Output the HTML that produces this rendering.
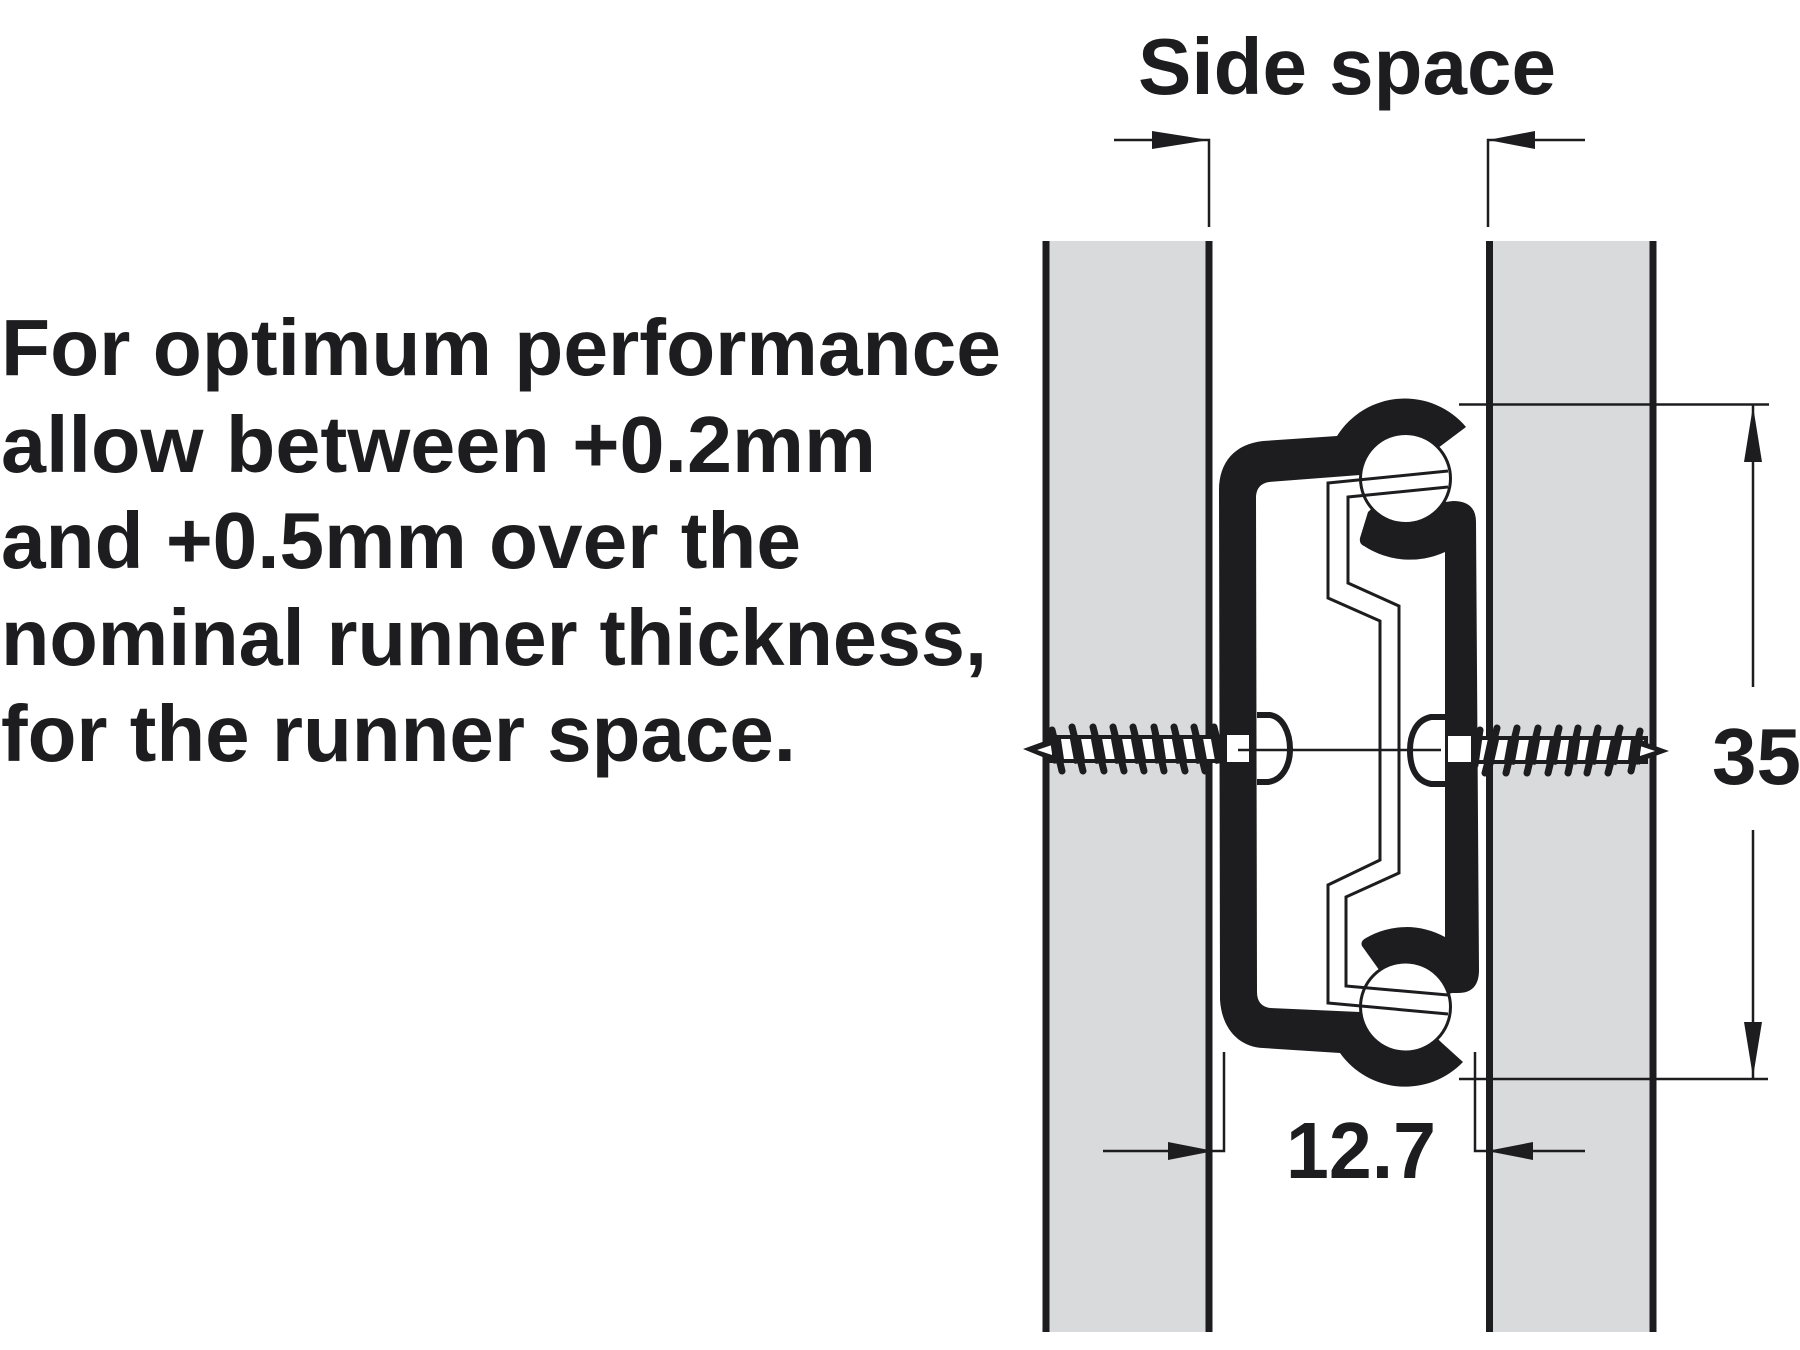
<!DOCTYPE html>
<html><head><meta charset="utf-8"><style>
html,body{margin:0;padding:0;background:#fff}
svg{display:block}
text{font-family:"Liberation Sans",sans-serif;font-weight:700;font-size:80px;fill:#1d1d20}
</style></head><body>
<svg width="1800" height="1350" viewBox="0 0 1800 1350" xmlns="http://www.w3.org/2000/svg">
<rect width="1800" height="1350" fill="#fff"/>
<!-- panels -->
<rect x="1046" y="241" width="163" height="1091" fill="#d9dadc"/>
<rect x="1489" y="241" width="164" height="1091" fill="#d9dadc"/>
<g stroke="#1d1d20" stroke-width="7" fill="none">
<path d="M1046 241V1332M1209 241V1332M1489.500 241V1332M1653 241V1332"/>
</g>
<!-- runners -->
<g fill="#1d1d20">
<path d="M1337 436L1263 441C1235 444 1219 462 1219 490L1220 1000C1222 1030 1240 1047 1263 1048L1340 1053A80 80 0 0 0 1463 1062L1442 1043L1405 1007L1360 1012L1270 1008Q1257 1006 1257 992L1256 496Q1257 484 1269 482L1360 475L1405 478L1438 448L1466 427A80 80 0 0 0 1337 436Z"/>
<path d="M1445 552L1445 937A80 80 0 0 0 1366 938Q1360 941 1362 946L1377 967L1405 1007L1452 993L1458 993Q1479 993 1479 970L1476 522Q1476 501 1453 501L1445 502L1405 478L1368 512L1360 538Q1359 544 1364 546A84 84 0 0 0 1445 552Z"/>
</g>
<!-- inner profile lines -->
<g stroke="#1d1d20" stroke-width="3" fill="none">
<circle cx="1405.500" cy="478.500" r="45" fill="#fff"/>
<circle cx="1405.500" cy="1007" r="45" fill="#fff"/>
<path d="M1448 471L1328 483V598L1380 621V860L1328 885V1003L1448 1014"/>
<path d="M1448 487L1348 497V583L1399 606V873L1346 897V986L1448 995"/>
</g>
<!-- left screw -->
<g stroke="#1d1d20" fill="none">
<rect x="1048" y="737" width="174" height="24" fill="#fff" stroke-width="4"/>
<polygon points="1023,749 1045,741 1053,736 1053,763 1045,758" fill="#1d1d20" stroke="none"/>
<polygon points="1037,750 1052,745 1052,755" fill="#fff" stroke="none"/>
<g stroke-width="7" stroke-linecap="round">
<path d="M1052 730L1062 771M1072 727L1083 771M1093 727L1104 771M1113 727L1124 771M1133 727L1144 771M1154 727L1164 771M1174 727L1185 771M1194 727L1205 771M1214 727L1222 761"/>
</g>
<g stroke-width="11" stroke-linecap="butt">
<path d="M1055 736L1059 763M1075 736L1080 763M1096 736L1101 763M1116 736L1121 763M1136 736L1141 763M1157 736L1161 763M1177 736L1182 763M1197 736L1202 763M1216 736L1221 763"/>
</g>
</g>
<!-- right screw -->
<g stroke="#1d1d20" fill="none">
<rect x="1476" y="738" width="170" height="24" fill="#fff" stroke-width="4"/>
<polygon points="1669,751 1647,743 1639,738 1639,765 1647,759" fill="#1d1d20" stroke="none"/>
<polygon points="1655,751 1640,746 1640,756" fill="#fff" stroke="none"/>
<g stroke-width="7" stroke-linecap="round">
<path d="M1480 730L1475 765M1497 728L1485 773M1517 728L1506 773M1538 728L1527 773M1559 728L1548 773M1578 728L1568 773M1598 728L1587 773M1620 728L1608 773M1640 731L1631 771"/>
</g>
<g stroke-width="11" stroke-linecap="butt">
<path d="M1494 737L1488 764M1514 737L1509 764M1535 737L1530 764M1556 737L1551 764M1575 737L1571 764M1595 737L1590 764M1617 737L1611 764M1637 737L1633 764"/>
</g>
</g>
<!-- screw heads -->
<rect x="1227" y="735" width="22" height="27" fill="#fff"/>
<rect x="1448" y="736" width="23" height="26" fill="#fff"/>
<g stroke="#1d1d20" fill="none">
<path d="M1257 715H1270C1283 717 1290 733 1290 749C1290 765 1283 780 1268 782H1257" stroke-width="6"/>
<path d="M1447 717H1431C1416 720 1410 735 1410 750C1410 768 1416 781 1431 784H1447" stroke-width="6"/>
</g>
<path d="M1238 750H1441" stroke="#1d1d20" stroke-width="2.500" fill="none"/>
<!-- dimension lines -->
<g stroke="#1d1d20" stroke-width="2.500" fill="none">
<path d="M1114 140H1209V227"/>
<path d="M1585 140H1488V227"/>
<path d="M1459 404.500H1769"/>
<path d="M1459 1079H1768"/>
<path d="M1753 404V687"/>
<path d="M1753 830V1079"/>
<path d="M1103 1151H1224V1052"/>
<path d="M1585 1151H1475V1052"/>
</g>
<g fill="#1d1d20">
<polygon points="1209,140 1152,131 1152,149"/>
<polygon points="1488,140 1535,131 1535,149"/>
<polygon points="1753,406 1744,462 1762,462"/>
<polygon points="1753,1077 1744,1022 1762,1022"/>
<polygon points="1214,1151 1168,1142 1168,1160"/>
<polygon points="1487,1151 1533,1142 1533,1160"/>
</g>
<!-- text -->
<text x="1138" y="94">Side space</text>
<text x="1" y="375" textLength="1000" lengthAdjust="spacingAndGlyphs">For optimum performance</text>
<text x="1" y="472" textLength="875" lengthAdjust="spacingAndGlyphs">allow between +0.2mm</text>
<text x="1" y="568" textLength="800" lengthAdjust="spacingAndGlyphs">and +0.5mm over the</text>
<text x="1" y="665" textLength="986" lengthAdjust="spacingAndGlyphs">nominal runner thickness,</text>
<text x="1" y="761" textLength="795" lengthAdjust="spacingAndGlyphs">for the runner space.</text>
<text x="1286" y="1178" textLength="150" lengthAdjust="spacingAndGlyphs">12.7</text>
<text x="1712" y="784">35</text>
</svg>
</body></html>
